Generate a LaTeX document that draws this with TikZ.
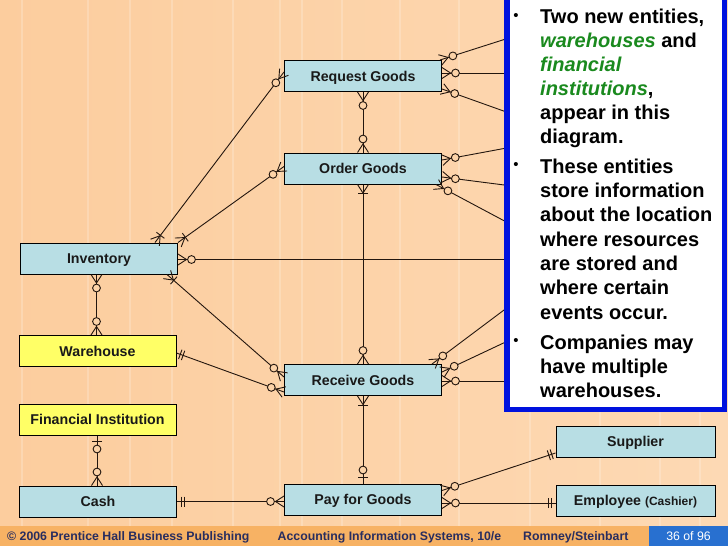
\documentclass[tikz,border=0pt]{standalone}
\usepackage{fontspec}
\setmainfont{Liberation Sans}
\usetikzlibrary{calc}
\definecolor{bgl}{RGB}{252,205,158}
\definecolor{bgr}{RGB}{253,217,180}
\definecolor{bgc}{RGB}{252,211,168}
\definecolor{entb}{RGB}{184,222,228}
\definecolor{enty}{RGB}{255,255,102}
\definecolor{lnc}{RGB}{35,22,14}
\definecolor{boxb}{RGB}{0,18,222}
\definecolor{grn}{RGB}{26,138,30}
\definecolor{footc}{RGB}{247,178,100}
\definecolor{footb}{RGB}{40,112,208}
\definecolor{foott}{RGB}{40,45,95}
\newcommand{\entfont}{\fontsize{14.2}{16}\selectfont\bfseries}
\newcommand{\boxfont}{\fontsize{20}{24}\selectfont\bfseries}
\newcommand{\footfont}{\fontsize{12.3}{14}\selectfont}
\tikzset{
 ent/.style={draw=black, line width=1pt, fill=entb, minimum width=157pt, minimum height=31pt, inner sep=0pt, font=\entfont, text=black!90, text height=10.2pt, text depth=0pt},
 yent/.style={ent, fill=enty},
 conn/.style={draw=lnc, line width=0.9pt},
 btxt/.style={anchor=base west, inner sep=0pt, font=\boxfont, text=black},
 bull/.style={anchor=base, inner sep=0pt, font=\fontsize{15}{15}\selectfont, text=black},
 ftxt/.style={anchor=base west, inner sep=0pt, font=\footfont\bfseries, text=foott},
}
% crow's foot at #1, line coming from #2
\newcommand{\erCrow}[2]{\draw[conn] ($(#1)!5.5pt!90:(#2)$) -- ($(#1)!8.5pt!(#2)$) -- ($(#1)!5.5pt!-90:(#2)$);}
\newcommand{\erCirc}[2]{\draw[conn,fill=bgc] ($(#1)!13.5pt!(#2)$) circle[radius=3.9pt];}
\newcommand{\erBar}[3]{\draw[conn] ($(#1)!#3!(#2)!5pt!90:(#2)$) -- ($(#1)!#3!(#2)!5pt!-90:(#2)$);}
\newcommand{\erZM}[2]{\erCrow{#1}{#2}\erCirc{#1}{#2}}
\newcommand{\erOM}[2]{\erCrow{#1}{#2}\erBar{#1}{#2}{9pt}}
\newcommand{\erZO}[2]{\erBar{#1}{#2}{6pt}\erCirc{#1}{#2}}
\newcommand{\erOO}[2]{\erBar{#1}{#2}{4pt}\erBar{#1}{#2}{7pt}}
\begin{document}
\begin{tikzpicture}[x=1pt,y=-1pt]
\useasboundingbox (0,0) rectangle (728,546);
% background
\shade[left color=bgl, right color=bgr] (0,0) rectangle (728,527);
\foreach \sx in {22,88,130,172,233,280,302,342,400,459,530,600,660,700}
  \draw[white,opacity=0.2,line width=1.2pt] (\sx,0) -- (\sx,527);
% entities
\node[ent]  (rg)   at (363,76)    {Request Goods};
\node[ent]  (og)   at (363,168.5) {Order Goods};
\node[ent]  (inv)  at (99,258.5)  {Inventory};
\node[yent] (wh)   at (97.5,351)  {Warehouse};
\node[ent]  (recv) at (363,380)   {Receive Goods};
\node[yent] (fi)   at (97.5,419.5){Financial Institution};
\node[ent]  (cash) at (98,501.5)  {Cash};
\node[ent]  (pay)  at (363,499.5) {Pay for Goods};
\node[ent,minimum width=159pt] (sup) at (635.5,441.5) {Supplier};
\node[ent,minimum width=159pt] (emp) at (635.5,500.5) {Employee {\fontsize{12}{14}\selectfont(Cashier)}};
% connector end points
\coordinate (i1) at ([xshift=135pt]inv.north west);
\coordinate (i2) at (inv.north east);
\coordinate (i3) at ([yshift=-1pt]inv.east);
\coordinate (i4) at ([xshift=-11pt]inv.south east);
\coordinate (i5) at ([xshift=-2.5pt]inv.south);
\coordinate (w1) at (i5 |- wh.north);
\coordinate (w2) at ([yshift=-2pt]wh.east);
\coordinate (r1) at ([yshift=4pt]rg.west);
\coordinate (o1) at ([yshift=2pt]og.west);
\coordinate (v1) at ([yshift=3pt]recv.west);
\coordinate (v2) at ([yshift=-12pt]recv.west);
\coordinate (f1) at ([xshift=-0.5pt]fi.south);
\coordinate (c1) at (f1 |- cash.north);
\coordinate (p1) at (cash.east -| pay.west);
\coordinate (p2) at ([yshift=9pt]pay.east);
\coordinate (s1) at ([yshift=-11.5pt]sup.west);
\coordinate (p3) at ([yshift=-3.5pt]pay.east);
\coordinate (e1) at (p3 -| emp.west);
\coordinate (ra) at ([xshift=-2pt]rg.north east);
\coordinate (rb) at ([yshift=3pt]rg.east);
\coordinate (rc) at ([yshift=-13pt]rg.east);
\coordinate (oa) at ([yshift=8.5pt]og.east);
\coordinate (ob) at ([yshift=-8.5pt]og.east);
\coordinate (oc) at ([xshift=-6pt]og.south east);
\coordinate (va) at ([xshift=-10pt]recv.north east);
\coordinate (vb) at ([yshift=8pt]recv.east);
\coordinate (vc) at ([yshift=-1pt]recv.east);
% far ends hidden behind the text box
\coordinate (xa) at (512,37);
\coordinate (xb) at (512,73);
\coordinate (xc) at (512,114);
\coordinate (ya) at (512,147);
\coordinate (yb) at (512,186);
\coordinate (yc) at (512,225);
\coordinate (xi) at (512,259.5);
\coordinate (za) at (512,304);
\coordinate (zb) at (512,339);
\coordinate (zc) at (512,381);
% connectors
\draw[conn] (i1) -- (r1);
\draw[conn] (i2) -- (o1);
\draw[conn] (i3) -- (xi);
\draw[conn] (i4) -- (v1);
\draw[conn] (i5) -- (w1);
\draw[conn] (w2) -- (v2);
\draw[conn] (rg.south) -- (og.north);
\draw[conn] (og.south) -- (recv.north);
\draw[conn] (recv.south) -- (pay.north);
\draw[conn] (f1) -- (c1);
\draw[conn] (cash.east) -- (p1);
\draw[conn] (p2) -- (s1);
\draw[conn] (p3) -- (e1);
\draw[conn] (ra) -- (xa);
\draw[conn] (rb) -- (xb);
\draw[conn] (rc) -- (xc);
\draw[conn] (oa) -- (ya);
\draw[conn] (ob) -- (yb);
\draw[conn] (oc) -- (yc);
\draw[conn] (va) -- (za);
\draw[conn] (vb) -- (zb);
\draw[conn] (vc) -- (zc);
% markers
\erOM{i1}{r1}\erZM{r1}{i1}
\erOM{i2}{o1}\erZM{o1}{i2}
\erZM{i3}{xi}
\erOM{i4}{v1}\erZM{v1}{i4}
\erZM{i5}{w1}\erZM{w1}{i5}
\erOO{w2}{v2}\erZM{v2}{w2}
\erZM{rg.south}{og.north}\erZM{og.north}{rg.south}
\erOM{og.south}{recv.north}\erZM{recv.north}{og.south}
\erOM{recv.south}{pay.north}\erZO{pay.north}{recv.south}
\erZO{f1}{c1}\erZM{c1}{f1}
\erOO{cash.east}{p1}\erZM{p1}{cash.east}
\erZM{p2}{s1}\erOO{s1}{p2}
\erZM{p3}{e1}\erOO{e1}{p3}
\erZM{ra}{xa}\erZM{rb}{xb}\erZM{rc}{xc}
\erZM{oa}{ya}\erZM{ob}{yb}\erZM{oc}{yc}
\erZM{va}{za}\erZM{vb}{zb}\erZM{vc}{zc}
% text box
\draw[line width=5.5pt, draw=boxb, fill=white] (506.75,-10) rectangle (724.25,409.25);
\node[bull] (b1) at (516,20) {•};
\node[bull] (b2) at (516,169.7) {•};
\node[bull] (b3) at (516,345.5) {•};
\node[btxt] (t1)  at (540,23.5)  {Two new entities,};
\node[btxt] (t2)  at (540,47.5)  {\textcolor{grn}{\itshape warehouses} and};
\node[btxt] (t3)  at (540,71.5)  {\textcolor{grn}{\itshape financial}};
\node[btxt] (t4)  at (540,95.5)  {\textcolor{grn}{\itshape institutions},};
\node[btxt] (t5)  at (540,119.5) {appear in this};
\node[btxt] (t6)  at (540,143.5) {diagram.};
\node[btxt] (t7)  at (540,173.2) {These entities};
\node[btxt] (t8)  at (540,197.5) {store information};
\node[btxt] (t9)  at (540,221.8) {about the location};
\node[btxt] (t10) at (540,246.1) {where resources};
\node[btxt] (t11) at (540,270.4) {are stored and};
\node[btxt] (t12) at (540,294.7) {where certain};
\node[btxt] (t13) at (540,319)   {events occur.};
\node[btxt] (t14) at (540,349)   {Companies may};
\node[btxt] (t15) at (540,373.3) {have multiple};
\node[btxt] (t16) at (540,397.6) {warehouses.};
% footer
\fill[footc] (0,526) rectangle (728,546);
\fill[footb] (649,526) rectangle (728,546);
\node[ftxt] (fa) at (7,540.5)   {© 2006 Prentice Hall Business Publishing};
\node[ftxt] (fb) at (277.5,540.5) {Accounting Information Systems, 10/e};
\node[ftxt] (fc) at (523,540.5) {Romney/Steinbart};
\node[anchor=base, inner sep=0pt, font=\footfont, text=white] (fd) at (688.5,540.5) {36 of 96};
\end{tikzpicture}
\end{document}
